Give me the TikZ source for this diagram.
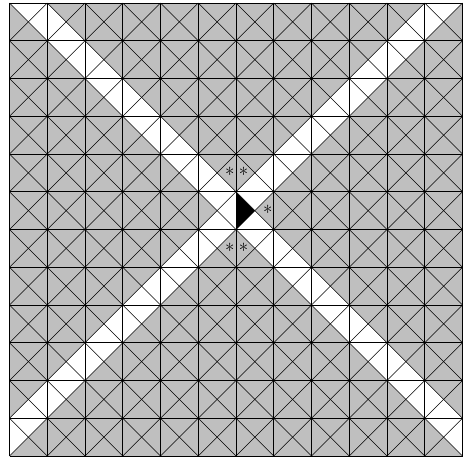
\documentclass[tikz,border=0pt]{standalone}
\usepackage{tikz}
\usetikzlibrary{positioning}
\definecolor{cellgrey}{gray}{0.75}
\tikzset{
  fig/.style={font=\small},
  gridln/.style={line width=0.65pt},
  diagln/.style={line width=0.5pt},
  band/.style={fill=white},
  astlbl/.style={font=\Large,inner sep=0pt},
}

\begin{document}
\begin{tikzpicture}[fig]
\useasboundingbox (-0.252,-0.053) rectangle (12.04,12.08);

% ======================  cells and the two white bands  ==================
\fill[cellgrey] (0,0) rectangle (12,12);
\fill[band] (0,12) -- (1,12) -- (12,1) -- (12,0) -- cycle;
\fill[band] (0,0) -- (12,12) -- (11,12) -- (0,1) -- cycle;
\fill[black] (6,7) -- (6,6) -- (6.5,6.5) -- cycle;

% ======================  grid and diagonals  ==============================
\foreach \c in {0,...,11}{
  \foreach \r in {0,...,11}{
    \draw[diagln] (\c,\r) -- ++(1,1);
    \draw[diagln] (\c+1,\r) -- ++(-1,1);
  }
}
\foreach \k in {0,...,12}{
  \draw[gridln] (\k,0) -- (\k,12);
  \draw[gridln] (0,\k) -- (12,\k);
}

% ======================  marked triangles  ===============================
\node[astlbl] (a1) at (5.833,7.45) {*};
\node[astlbl] (a2) at (6.2,7.45) {*};
\node[astlbl] (a3) at (6.84,6.45) {*};
\node[astlbl] (a4) at (5.833,5.45) {*};
\node[astlbl] (a5) at (6.2,5.45) {*};

\end{tikzpicture}
\end{document}
